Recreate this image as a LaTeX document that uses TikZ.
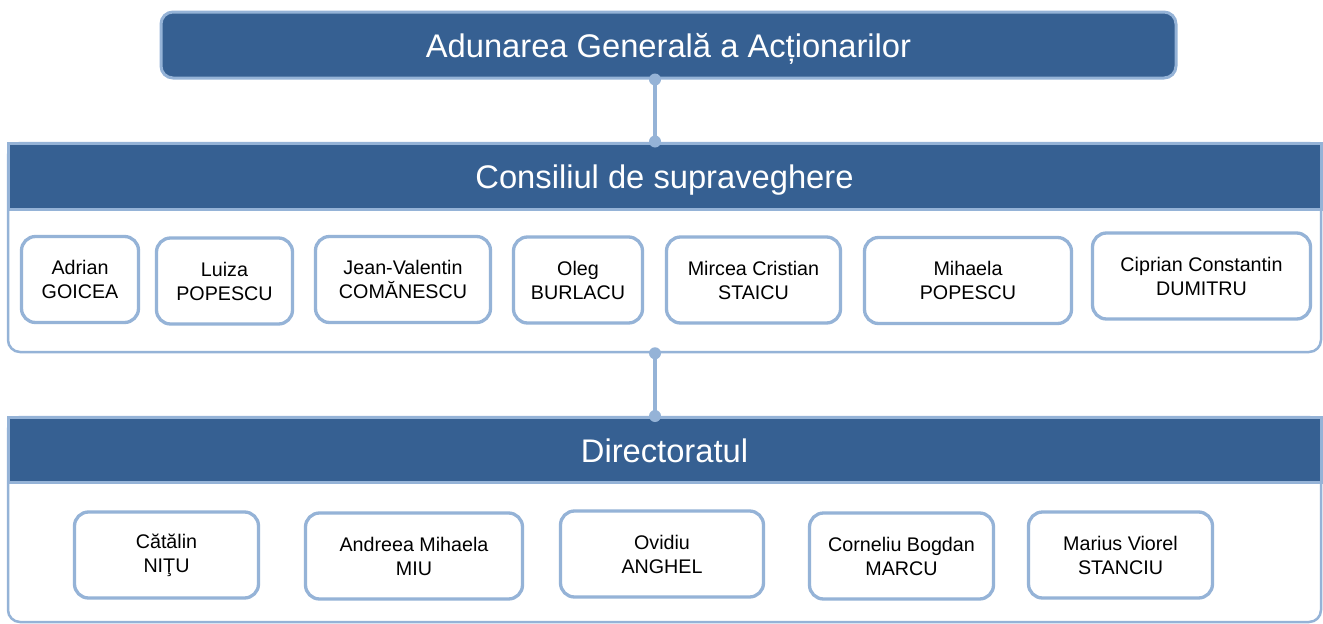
\documentclass[tikz,border=0pt]{standalone}
\usepackage{fontspec}
\setmainfont{Liberation Sans}
\usepackage{tikz}

\definecolor{hdrblue}{RGB}{54,96,146}
\definecolor{lineblue}{RGB}{149,179,215}

\tikzset{
  headbox/.style={draw=lineblue,line width=3pt,fill=hdrblue,text=white,inner sep=0pt,
    text height=24pt,text depth=0pt,font=\fontsize{32.7}{39}\selectfont},
  panelbox/.style={draw=lineblue,line width=2.5pt,fill=white,rounded corners=12pt,inner sep=0pt},
  person/.style={draw=lineblue,line width=3.3pt,fill=white,rounded corners=14pt,inner sep=0pt,
    align=center,font=\fontsize{19.7}{24}\selectfont,minimum height=86pt},
  link/.style={draw=lineblue,line width=4pt},
  joint/.style={fill=lineblue}
}

\begin{document}
\begin{tikzpicture}[x=1pt,y=1pt,yscale=-1,xscale=1]
\useasboundingbox (0,0) rectangle (1323,624);

%Rounded Rect [top]
\node (agm) at (668.5,45) [headbox,rounded corners=12pt,minimum width=1015pt,minimum height=66pt] {Adunarea Generală a Acționarilor};

%Panel [supervisory board]
\node (csBody) at (664.5,247.5) [panelbox,minimum width=1313pt,minimum height=209pt] {};
\node (csHead) at (664.5,176) [headbox,minimum width=1313pt,minimum height=66pt] {Consiliul de supraveghere};

%Panel [directorate]
\node (dirBody) at (664.5,519.5) [panelbox,minimum width=1313pt,minimum height=205pt] {};
\node (dirHead) at (664.5,450) [headbox,minimum width=1313pt,minimum height=65pt] {Directoratul};

%Connectors
\coordinate (spine) at (655,0);
\draw [link] (spine |- agm.south) -- (spine |- csHead.north) ;
\draw [link] (spine |- csBody.south) -- (spine |- dirHead.north) ;
\fill [joint] (spine |- agm.south) circle (6);
\fill [joint] (spine |- csHead.north) circle (6);
\fill [joint] (spine |- csBody.south) circle (6);
\fill [joint] (spine |- dirHead.north) circle (6);

% Members of the supervisory board
\node (cs1) at (80,279.5) [person,minimum width=117pt] {Adrian\\GOICEA};
\node (cs2) at (224.5,281) [person,minimum width=136pt] {Luiza\\POPESCU};
\node (cs3) at (403,279.5) [person,minimum width=175pt] {Jean-Valentin\\COMĂNESCU};
\node (cs4) at (578,280) [person,minimum width=129pt] {Oleg\\BURLACU};
\node (cs5) at (753.5,280) [person,minimum width=174pt] {Mircea Cristian\\STAICU};
\node (cs6) at (968,280.5) [person,minimum width=207pt] {Mihaela\\POPESCU};
\node (cs7) at (1201.5,276) [person,minimum width=218pt] {Ciprian Constantin\\DUMITRU};

% Members of the directorate
\node (dir1) at (166.5,555) [person,minimum width=184pt] {Cătălin\\NIŢU};
\node (dir2) at (414,556) [person,minimum width=217pt] {Andreea Mihaela\\MIU};
\node (dir3) at (662,554) [person,minimum width=203pt] {Ovidiu\\ANGHEL};
\node (dir4) at (901.5,556) [person,minimum width=184pt] {Corneliu Bogdan\\MARCU};
\node (dir5) at (1120.5,555) [person,minimum width=184pt] {Marius Viorel\\STANCIU};

\end{tikzpicture}
\end{document}
